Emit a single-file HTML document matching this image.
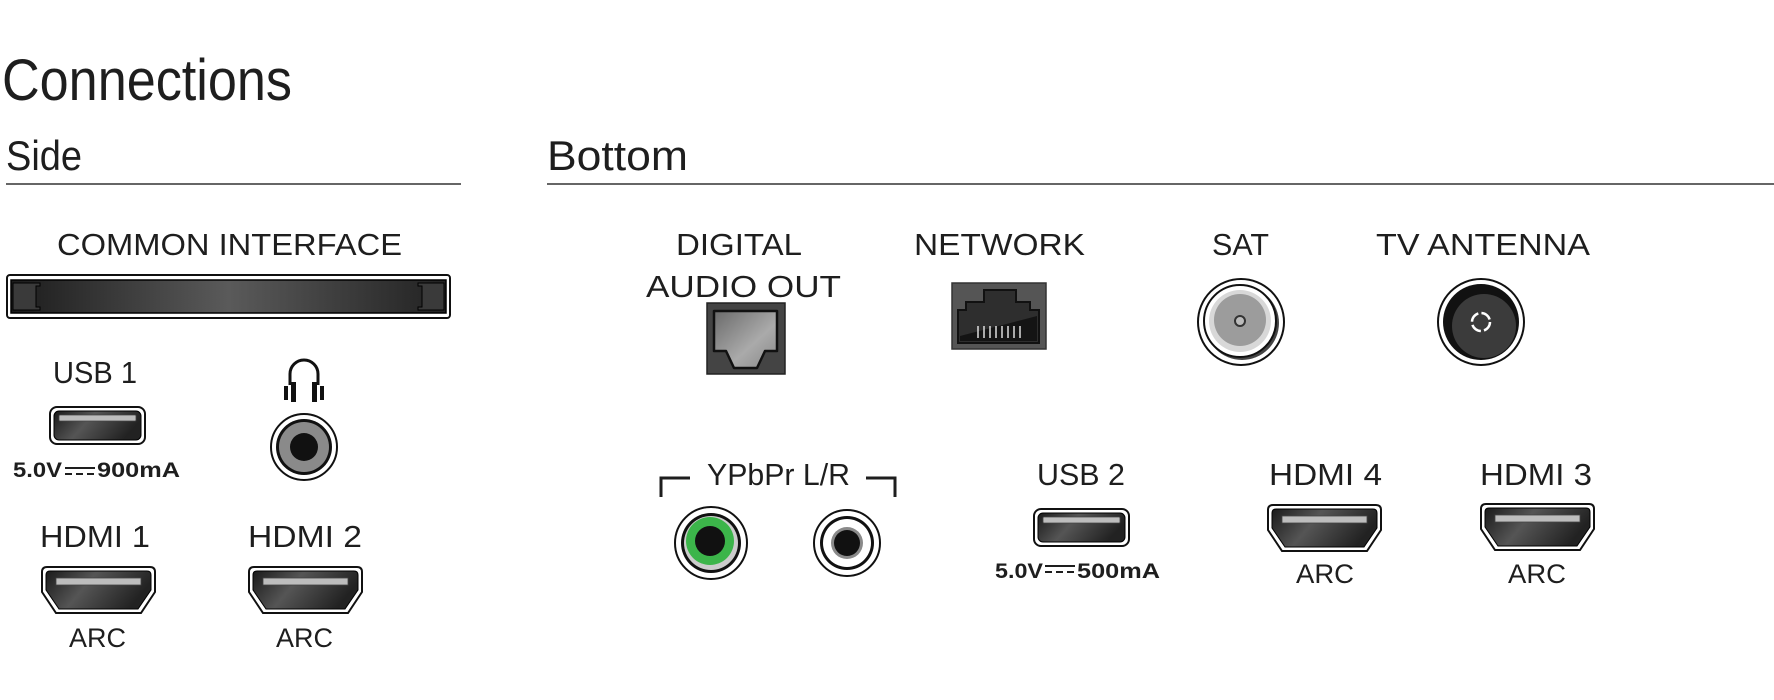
<!DOCTYPE html>
<html><head><meta charset="utf-8"><style>
html,body{margin:0;padding:0;background:#fff;}
svg{display:block;}
text{font-family:"Liberation Sans",sans-serif;fill:#1e1e1e;}
</style></head><body>
<svg width="1774" height="700" viewBox="0 0 1774 700" xmlns="http://www.w3.org/2000/svg">
<defs>
<linearGradient id="dg" x1="0" y1="0" x2="1" y2="0.3">
<stop offset="0" stop-color="#1a1a1a"/><stop offset="0.45" stop-color="#555"/><stop offset="1" stop-color="#222"/></linearGradient>
<linearGradient id="ci" x1="0" y1="0" x2="1" y2="0">
<stop offset="0" stop-color="#1c1c1c"/><stop offset="0.5" stop-color="#5a5a5a"/><stop offset="1" stop-color="#222"/></linearGradient>
<linearGradient id="lg" x1="0" y1="0" x2="1" y2="1">
<stop offset="0" stop-color="#6a6a6a"/><stop offset="0.6" stop-color="#aaa"/><stop offset="1" stop-color="#888"/></linearGradient>
<symbol id="hdmi" viewBox="0 0 115 48">
<path d="M6,1 H109 Q114,1 114,6 V26 L100,47 H15 L1,26 V6 Q1,1 6,1 Z" fill="#fff" stroke="#111" stroke-width="2"/>
<path d="M9,5 H106 Q110,5 110,9 V24 L97,43 H18 L5,24 V9 Q5,5 9,5 Z" fill="url(#dg)" stroke="#000" stroke-width="1"/>
<rect x="15" y="12" width="85" height="7" fill="#bdbdbd" stroke="#444" stroke-width="0.8"/>
</symbol>
<symbol id="usb" viewBox="0 0 97 39">
<rect x="1" y="1" width="95" height="37" rx="7" fill="#fff" stroke="#111" stroke-width="2"/>
<rect x="5" y="5" width="87" height="29" rx="5" fill="url(#dg)" stroke="#000"/>
<rect x="10" y="9" width="77" height="6" rx="1" fill="#bdbdbd" stroke="#444" stroke-width="0.8"/>
</symbol>
</defs>

<text x="2" y="100" font-size="58" textLength="290" lengthAdjust="spacingAndGlyphs" style="font-weight:300">Connections</text>
<text x="6" y="170" font-size="42" textLength="76" lengthAdjust="spacingAndGlyphs">Side</text>
<text x="547" y="170" font-size="42" textLength="141" lengthAdjust="spacingAndGlyphs">Bottom</text>
<line x1="6" y1="184" x2="461" y2="184" stroke="#333" stroke-width="1.5"/>
<line x1="547" y1="184" x2="1774" y2="184" stroke="#333" stroke-width="1.5"/>

<!-- Side -->
<text x="57" y="255" font-size="31" textLength="345" lengthAdjust="spacingAndGlyphs">COMMON INTERFACE</text>
<rect x="7" y="275" width="443" height="43" rx="3" fill="#fff" stroke="#111" stroke-width="2"/>
<rect x="11" y="280" width="435" height="33" fill="url(#ci)" stroke="#000" stroke-width="1.5"/>
<path d="M13,283 H40 V286 H36 V307 H40 V310 H13 Z" fill="#3a3a3a" stroke="#000"/>
<path d="M444,283 H418 V286 H422 V307 H418 V310 H444 Z" fill="#3a3a3a" stroke="#000"/>

<text x="53" y="383" font-size="31" textLength="84" lengthAdjust="spacingAndGlyphs">USB 1</text>
<use href="#usb" x="49" y="406" width="97" height="39"/>
<text x="13" y="477" font-size="21" font-weight="bold" textLength="49" lengthAdjust="spacingAndGlyphs">5.0V</text>
<line x1="65" y1="468" x2="95" y2="468" stroke="#1e1e1e" stroke-width="2"/>
<line x1="65" y1="474" x2="95" y2="474" stroke="#1e1e1e" stroke-width="2" stroke-dasharray="7,4"/>
<text x="97" y="477" font-size="21" font-weight="bold" textLength="83" lengthAdjust="spacingAndGlyphs">900mA</text>

<path d="M290,385 V374 A14,14 0 0 1 318,374 V385" fill="none" stroke="#111" stroke-width="3"/>
<rect x="284" y="386" width="4" height="14" fill="#111"/><rect x="291" y="382" width="5" height="20" fill="#111"/>
<rect x="320" y="386" width="4" height="14" fill="#111"/><rect x="312" y="382" width="5" height="20" fill="#111"/>
<circle cx="304" cy="447" r="33" fill="#fff" stroke="#111" stroke-width="2"/>
<circle cx="304" cy="447" r="28" fill="#111"/>
<circle cx="304" cy="447" r="25" fill="#8a8a8a"/>
<circle cx="304" cy="447" r="14" fill="#111"/>

<text x="40" y="547" font-size="31" textLength="110" lengthAdjust="spacingAndGlyphs">HDMI 1</text>
<text x="248" y="547" font-size="31" textLength="114" lengthAdjust="spacingAndGlyphs">HDMI 2</text>
<use href="#hdmi" x="41" y="566" width="115" height="48"/>
<use href="#hdmi" x="248" y="566" width="115" height="48"/>
<text x="69" y="647" font-size="27" textLength="57" lengthAdjust="spacingAndGlyphs">ARC</text>
<text x="276" y="647" font-size="27" textLength="57" lengthAdjust="spacingAndGlyphs">ARC</text>

<!-- Bottom -->
<text x="676" y="255" font-size="31" textLength="126" lengthAdjust="spacingAndGlyphs">DIGITAL</text>
<text x="646" y="297" font-size="31" textLength="195" lengthAdjust="spacingAndGlyphs">AUDIO OUT</text>
<text x="914" y="255" font-size="31" textLength="171" lengthAdjust="spacingAndGlyphs">NETWORK</text>
<text x="1212" y="255" font-size="31" textLength="57" lengthAdjust="spacingAndGlyphs">SAT</text>
<text x="1376" y="255" font-size="31" textLength="214" lengthAdjust="spacingAndGlyphs">TV ANTENNA</text>

<rect x="707" y="303" width="78" height="71" fill="#444" stroke="#222" stroke-width="1.5"/>
<path d="M714,311 H777 V351 L765,351 L757,368 H734 L726,351 L714,351 Z" fill="url(#lg)" stroke="#111" stroke-width="2.5" stroke-linejoin="round"/>

<rect x="952" y="283" width="94" height="66" fill="#555" stroke="#333" stroke-width="1.5"/>
<path d="M958,343 V310 H966 V302 H984 V290 H1016 V302 H1030 V310 H1039 V343 Z" fill="#2e2e2e" stroke="#111" stroke-width="2"/>
<path d="M960,336 L1037,316 V341 H960 Z" fill="#141414"/>
<g stroke="#ddd" stroke-width="1.5">
<line x1="978" y1="326" x2="978" y2="338"/><line x1="984" y1="326" x2="984" y2="338"/><line x1="990" y1="326" x2="990" y2="338"/><line x1="996" y1="326" x2="996" y2="338"/><line x1="1002" y1="326" x2="1002" y2="338"/><line x1="1008" y1="326" x2="1008" y2="338"/><line x1="1014" y1="326" x2="1014" y2="338"/><line x1="1020" y1="326" x2="1020" y2="338"/>
</g>

<circle cx="1241" cy="322" r="43" fill="#fff" stroke="#111" stroke-width="2"/>
<circle cx="1242" cy="323" r="37" fill="#444"/>
<circle cx="1240" cy="321" r="36" fill="#fff" stroke="#111" stroke-width="2"/>
<circle cx="1240" cy="321" r="31" fill="#d8d8d8"/>
<circle cx="1240" cy="320" r="26" fill="#9c9c9c"/>
<circle cx="1240" cy="321" r="5" fill="#bbb" stroke="#333" stroke-width="2"/>

<circle cx="1481" cy="322" r="43" fill="#fff" stroke="#111" stroke-width="2"/>
<circle cx="1481" cy="322" r="38" fill="#111"/>
<circle cx="1484" cy="326" r="32" fill="#3b3b3b"/>
<circle cx="1481" cy="322" r="9" fill="none" stroke="#fff" stroke-width="2.5" stroke-dasharray="11,3.2"/>

<text x="707" y="485" font-size="31" textLength="143" lengthAdjust="spacingAndGlyphs">YPbPr L/R</text>
<path d="M661,497 V478 H690" fill="none" stroke="#1e1e1e" stroke-width="3"/>
<path d="M866,478 H895 V497" fill="none" stroke="#1e1e1e" stroke-width="3"/>

<circle cx="711" cy="543" r="36" fill="#fff" stroke="#111" stroke-width="2"/>
<circle cx="711" cy="543" r="30" fill="#111"/>
<circle cx="711" cy="543" r="27" fill="#ccc"/>
<circle cx="710" cy="541" r="24" fill="#3cb54a"/>
<circle cx="710" cy="541" r="15" fill="#111"/>

<circle cx="847" cy="543" r="33" fill="#fff" stroke="#111" stroke-width="2"/>
<circle cx="847" cy="543" r="27" fill="#111"/>
<circle cx="847" cy="543" r="24" fill="#fff"/>
<circle cx="847" cy="543" r="16" fill="#8a8a8a"/>
<circle cx="847" cy="543" r="13" fill="#111"/>

<text x="1037" y="485" font-size="31" textLength="88" lengthAdjust="spacingAndGlyphs">USB 2</text>
<use href="#usb" x="1033" y="508" width="97" height="39"/>
<text x="995" y="578" font-size="21" font-weight="bold" textLength="48" lengthAdjust="spacingAndGlyphs">5.0V</text>
<line x1="1045" y1="566" x2="1075" y2="566" stroke="#1e1e1e" stroke-width="2"/>
<line x1="1045" y1="572" x2="1075" y2="572" stroke="#1e1e1e" stroke-width="2" stroke-dasharray="7,4"/>
<text x="1077" y="578" font-size="21" font-weight="bold" textLength="83" lengthAdjust="spacingAndGlyphs">500mA</text>

<text x="1269" y="485" font-size="31" textLength="113" lengthAdjust="spacingAndGlyphs">HDMI 4</text>
<text x="1480" y="485" font-size="31" textLength="112" lengthAdjust="spacingAndGlyphs">HDMI 3</text>
<use href="#hdmi" x="1267" y="504" width="115" height="48"/>
<use href="#hdmi" x="1480" y="503" width="115" height="48"/>
<text x="1296" y="583" font-size="27" textLength="58" lengthAdjust="spacingAndGlyphs">ARC</text>
<text x="1508" y="583" font-size="27" textLength="58" lengthAdjust="spacingAndGlyphs">ARC</text>
</svg>
</body></html>
